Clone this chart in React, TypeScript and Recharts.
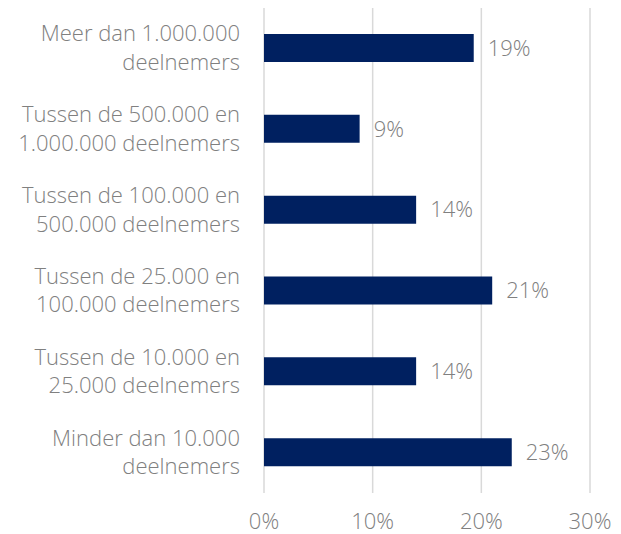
import React from 'react'
import { BarChart, Bar, XAxis, YAxis, CartesianGrid, LabelList } from 'recharts'

const categories = [
  ['Meer dan 1.000.000', 'deelnemers'],
  ['Tussen de 500.000 en', '1.000.000 deelnemers'],
  ['Tussen de 100.000 en', '500.000 deelnemers'],
  ['Tussen de 25.000 en', '100.000 deelnemers'],
  ['Tussen de 10.000 en', '25.000 deelnemers'],
  ['Minder dan 10.000', 'deelnemers'],
]
const shares = [19.3, 8.8, 14.0, 21.0, 14.0, 22.8]
const xTicks = [0, 10, 20, 30]

const data = categories.map((c, i) => ({ name: c.join('|'), value: shares[i] }))

const FONT = '"Open Sans", "Noto Sans", sans-serif'
const GREY = '#808080'
const FS = 22

const CategoryTick = (props: any) => {
  const { x, y, payload } = props
  const lines = String(payload.value).split('|')
  return (
    <text x={x} y={y} textAnchor="end" fill={GREY} fontSize={FS} fontFamily={FONT} fontWeight={300}>
      <tspan x={x} dy={-7}>{lines[0]}</tspan>
      <tspan x={x} dy={28.5}>{lines[1]}</tspan>
    </text>
  )
}

const App: React.FC = () => {
  return (
    <div style={{ position: 'absolute', left: 0, top: 0 }}>
      <BarChart
        width={621}
        height={534}
        data={data}
        layout="vertical"
        margin={{ top: 8, right: 31, bottom: 0, left: 0 }}
        barCategoryGap={0}
      >
        <CartesianGrid horizontal={false} stroke="#d9d9d9" strokeWidth={1.5} />
        <XAxis
          type="number"
          domain={[0, 30]}
          ticks={xTicks}
          tickFormatter={(v: number) => `${v}%`}
          axisLine={false}
          tickLine={false}
          height={41}
          tickMargin={14}
          tick={{ fill: GREY, fontSize: FS, fontFamily: FONT, fontWeight: 300 }}
        />
        <YAxis
          type="category"
          dataKey="name"
          width={264}
          axisLine={false}
          tickLine={false}
          tickMargin={18}
          tick={<CategoryTick />}
        />
        <Bar dataKey="value" fill="#002060" barSize={28} isAnimationActive={false}>
          <LabelList
            dataKey="value"
            position="right"
            offset={14}
            formatter={(v: any) => `${Math.round(Number(v))}%`}
            style={{ fill: GREY, fontSize: FS, fontFamily: FONT, fontWeight: 300 }}
          />
        </Bar>
      </BarChart>
    </div>
  )
}

export default App
